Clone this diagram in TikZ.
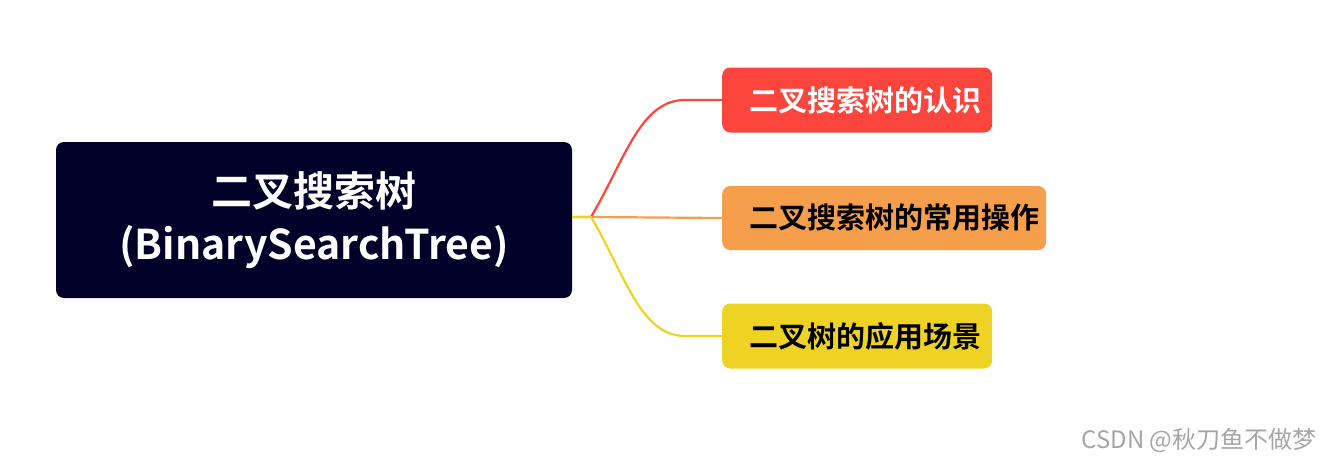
\documentclass[tikz,border=0pt]{standalone}
\usepackage{fontspec}
\setmainfont{Noto Sans CJK SC}
\newfontfamily\cjkb{Noto Sans CJK SC Bold}
\definecolor{navy}{HTML}{000028}
\definecolor{cred}{HTML}{FB453D}
\definecolor{corange}{HTML}{F59F4C}
\definecolor{cyellow}{HTML}{EFD324}
\begin{document}
\begin{tikzpicture}[x=1pt,y=-1pt,
  branch/.style={rounded corners=8pt,inner xsep=27pt,inner ysep=0pt,align=left,font=\cjkb\fontsize{29}{34}\selectfont,anchor=west},
  link/.style={line width=2.2pt}]
\useasboundingbox[fill=white] (0,0) rectangle (1323,463);
\node[fill=navy,rounded corners=8pt,minimum width=516pt,minimum height=156pt,text=white,align=center,font=\cjkb\fontsize{41}{53}\selectfont] (root) at (314,220) {二叉搜索树\\(BinarySearchTree)};
\node[branch,fill=cred,text=white,text width=216pt,minimum height=65pt] (a) at (722,100) {二叉搜索树的认识};
\node[branch,fill=corange,text=black,text width=270pt,minimum height=64pt] (b) at (722,218) {二叉搜索树的常用操作};
\node[branch,fill=cyellow,text=black,text width=216pt,minimum height=65pt] (c) at (722,336) {二叉树的应用场景};
\coordinate (s) at (591,217);
\draw[link,corange] (root.east |- s) -- (s) -- (b.west);
\draw[link,cred] (s) .. controls (625,160) and (640,100) .. (685,100) -- (a.west);
\draw[link,cyellow] (root.east |- s) -- (s) .. controls (625,274) and (640,336) .. (685,336) -- (c.west);
\node[anchor=east,text=gray!70,font=\fontsize{24}{28}\selectfont] (wm) at (1320,440) {CSDN @秋刀鱼不做梦};
\end{tikzpicture}
\end{document}
